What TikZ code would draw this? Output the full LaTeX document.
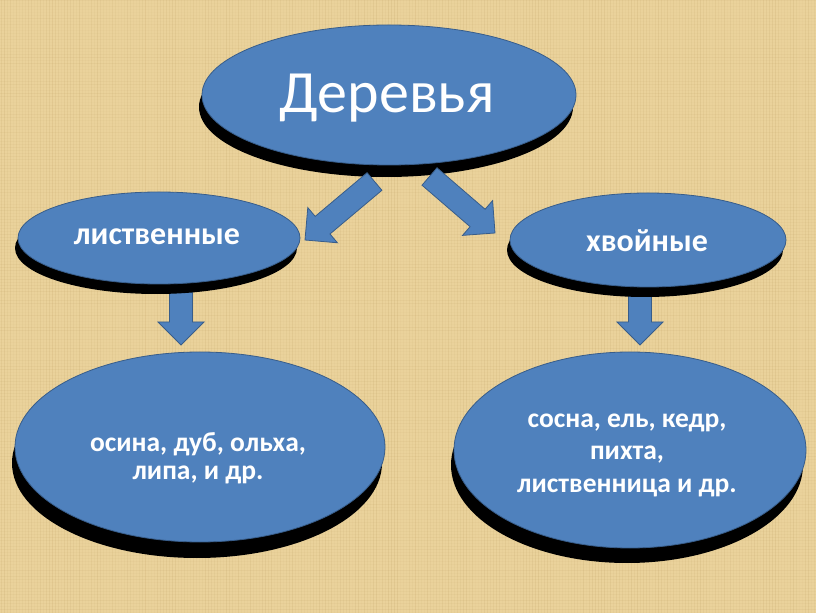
\documentclass[tikz,border=0pt]{standalone}
\usepackage{fontspec}
\setmainfont{Carlito}
\usetikzlibrary{calc,shapes.geometric,shadows}
\definecolor{paper}{HTML}{EAD29B}
\definecolor{paperline}{HTML}{B08F52}
\definecolor{blfill}{HTML}{4F81BD}
\definecolor{bledge}{HTML}{385D8A}
\tikzset{
  oval/.style={ellipse, fill=blfill, draw=bledge, line width=0.8pt, inner sep=0pt},
  ovalshadow/.style={general shadow={fill=black, shadow xshift=-3pt, shadow yshift=#1}},
  midlbl/.style={text=white, font=\bfseries\fontsize{32}{36}\selectfont, anchor=base},
  lowlbl/.style={text=white, font=\bfseries\fontsize{27.5}{32}\selectfont, anchor=base},
  blk/.style={fill=blfill, draw=bledge, line width=0.8pt, line join=miter},
}
\newcommand{\blkarrow}[3]{%
  \coordinate (#3n) at ($(#2)!23pt!(#1)$);
  \path[blk] ($(#1)!11.5pt!90:(#2)$) -- ($(#3n)!11.5pt!90:(#2)$) -- ($(#3n)!23pt!90:(#2)$)
    -- (#2) -- ($(#3n)!23pt!-90:(#2)$) -- ($(#3n)!11.5pt!-90:(#2)$) -- ($(#1)!11.5pt!-90:(#2)$) -- cycle;
}
\begin{document}
\begin{tikzpicture}[x=1pt,y=1pt]
\useasboundingbox (0,0) rectangle (816,613);
% background parchment
\fill[paper] (0,0) rectangle (816,613);
\pgfmathsetseed{11}
\foreach \x in {1,4,...,816} {
  \pgfmathsetmacro{\op}{0.03+0.12*rnd}
  \draw[paperline, opacity=\op, line width=0.9pt] (\x,0) -- (\x,613);}
\foreach \y in {1,4,...,613} {
  \pgfmathsetmacro{\op}{0.02+0.08*rnd}
  \draw[paperline, opacity=\op, line width=0.8pt] (0,\y) -- (816,\y);}

% arrow coordinates
\coordinate (ldT) at (374.5,431.5);
\coordinate (ldP) at (305,373);
\coordinate (rdT) at (429.5,436.5);
\coordinate (rdP) at (495,380);
\coordinate (lvT) at (181,333);
\coordinate (lvP) at (181,268);
\coordinate (rvT) at (640,323);
\coordinate (rvP) at (640,268);

% block arrows
\blkarrow{lvT}{lvP}{lv}
\blkarrow{rvT}{rvP}{rv}

% ellipses
\node[oval, ovalshadow=-12pt, minimum width=374pt, minimum height=140pt] (top) at (389,518) {};
\node[oval, ovalshadow=-10pt, minimum width=282pt, minimum height=92pt] (leaf) at (159,375) {};
\node[oval, ovalshadow=-10pt, minimum width=276pt, minimum height=94pt] (conif) at (648,373) {};
\node[oval, ovalshadow=-16pt, minimum width=370pt, minimum height=190pt] (leafex) at (200,166) {};
\node[oval, ovalshadow=-15pt, minimum width=352pt, minimum height=196pt] (conifex) at (630,163) {};

\blkarrow{ldT}{ldP}{ld}
\blkarrow{rdT}{rdP}{rd}

% texts
\node[text=white, font=\fontsize{60}{66}\selectfont, anchor=base] (ttop) at (387,500) {Деревья};
\node[midlbl] (tleaf) at (157,368) {лиственные};
\node[midlbl] (tconif) at (647,361) {хвойные};
\node[lowlbl] (tl1) at (198,161) {осина, дуб, ольха,};
\node[lowlbl] (tl2) at (198,133) {липа, и др.};
\node[lowlbl] (tr1) at (627,185) {сосна, ель, кедр,};
\node[lowlbl] (tr2) at (627,153) {пихта,};
\node[lowlbl] (tr3) at (627,120) {лиственница и др.};
\end{tikzpicture}
\end{document}
